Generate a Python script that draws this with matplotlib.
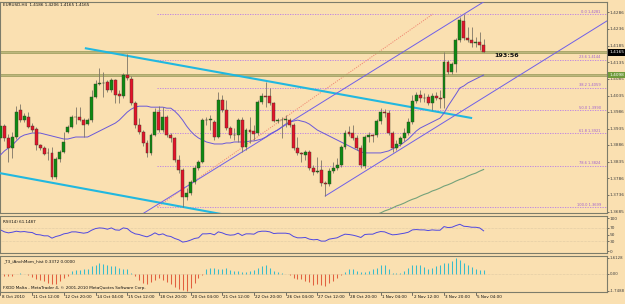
import matplotlib
matplotlib.use("Agg")
import matplotlib.pyplot as plt
import numpy as np

# ---------------- data ----------------
opens = [1.3907,1.3943,1.3907,1.3877,1.3910,1.3991,1.3961,1.3970,1.3943,1.3934,
         1.3886,1.3877,1.3862,1.3862,1.3789,1.3843,1.3865,1.3925,1.3940,1.3970,
         1.3970,1.3961,1.3949,1.3961,1.4030,1.4070,1.4073,1.4076,1.4052,1.4082,
         1.4039,1.4033,1.4097,1.4085,1.4012,1.3946,1.3925,1.3892,1.3862,1.3916,
         1.3985,1.3931,1.3970,1.3916,1.3907,1.3840,1.3810,1.3729,1.3741,1.3774,
         1.3816,1.3834,1.3961,1.3961,1.3955,1.3910,1.4021,1.3991,1.3937,1.3916,
         1.3916,1.3961,1.3880,1.3931,1.3928,1.3922,1.4015,1.4033,1.4033,1.4012,
         1.3958,1.3961,1.3961,1.3961,1.3946,1.3877,1.3862,1.3856,1.3865,1.3816,
         1.3804,1.3810,1.3771,1.3768,1.3807,1.3816,1.3825,1.3880,1.3925,1.3922,
         1.3907,1.3877,1.3822,1.3910,1.3916,1.3916,1.3958,1.3985,1.3982,1.3922,
         1.3877,1.3889,1.3907,1.3922,1.3955,1.4018,1.4036,1.4027,1.4030,1.4012,
         1.4033,1.4027,1.4027,1.4136,1.4106,1.4130,1.4202,1.4260,1.4208,1.4202,
         1.4193,1.4196,1.4186]
highs = [1.3961,1.3949,1.3919,1.3925,1.4003,1.4009,1.3982,1.3985,1.3952,1.3940,
         1.3889,1.3883,1.3877,1.3880,1.3849,1.3871,1.3925,1.3946,1.3976,1.4000,
         1.4000,1.3967,1.3967,1.4052,1.4082,1.4118,1.4106,1.4082,1.4088,1.4085,
         1.4052,1.4103,1.4160,1.4094,1.4018,1.3967,1.3931,1.3901,1.3922,1.3997,
         1.4003,1.4000,1.3976,1.3922,1.3910,1.3856,1.3816,1.3756,1.3780,1.3825,
         1.3840,1.3967,1.3970,1.3976,1.3961,1.4046,1.4036,1.4021,1.3943,1.3937,
         1.3967,1.3970,1.3937,1.3970,1.3946,1.4021,1.4043,1.4076,1.4058,1.4015,
         1.3967,1.3970,1.3976,1.3967,1.3952,1.3910,1.3865,1.3871,1.3871,1.3825,
         1.3849,1.3840,1.3777,1.3816,1.3834,1.3846,1.3886,1.3931,1.3943,1.3946,
         1.3916,1.3886,1.3916,1.3925,1.3919,1.3964,1.3997,1.3994,1.3991,1.3928,
         1.3901,1.3913,1.3937,1.3967,1.4036,1.4046,1.4052,1.4043,1.4039,1.4043,
         1.4046,1.4052,1.4166,1.4142,1.4136,1.4208,1.4272,1.4281,1.4242,1.4242,
         1.4211,1.4226,1.4206]
lows = [1.3901,1.3898,1.3834,1.3846,1.3904,1.3955,1.3955,1.3937,1.3925,1.3871,
        1.3871,1.3856,1.3840,1.3783,1.3783,1.3834,1.3862,1.3922,1.3937,1.3949,
        1.3958,1.3910,1.3946,1.3955,1.4027,1.4067,1.4030,1.4046,1.4046,1.4012,
        1.4012,1.4027,1.4082,1.4006,1.3937,1.3919,1.3883,1.3849,1.3856,1.3913,
        1.3925,1.3925,1.3910,1.3895,1.3834,1.3801,1.3699,1.3720,1.3735,1.3768,
        1.3810,1.3831,1.3946,1.3931,1.3901,1.3907,1.3985,1.3931,1.3907,1.3901,
        1.3895,1.3865,1.3871,1.3892,1.3901,1.3916,1.4009,1.4000,1.4006,1.3955,
        1.3952,1.3907,1.3940,1.3940,1.3871,1.3856,1.3834,1.3840,1.3810,1.3795,
        1.3801,1.3762,1.3732,1.3762,1.3801,1.3810,1.3819,1.3874,1.3913,1.3901,
        1.3871,1.3816,1.3816,1.3895,1.3895,1.3910,1.3949,1.3970,1.3916,1.3865,
        1.3871,1.3883,1.3898,1.3916,1.3949,1.4012,1.4015,1.4015,1.4006,1.3991,
        1.4021,1.3997,1.3997,1.4100,1.4100,1.4106,1.4196,1.4202,1.4196,1.4181,
        1.4181,1.4172,1.4165]
closes = [1.3943,1.3907,1.3877,1.3910,1.3985,1.3961,1.3973,1.3940,1.3931,1.3886,
          1.3877,1.3859,1.3863,1.3789,1.3843,1.3865,1.3895,1.3940,1.3970,1.3969,
          1.3961,1.3946,1.3961,1.4030,1.4070,1.4073,1.4074,1.4052,1.4082,1.4036,
          1.4033,1.4097,1.4088,1.4012,1.3946,1.3925,1.3892,1.3862,1.3916,1.3985,
          1.3931,1.3970,1.3916,1.3907,1.3840,1.3810,1.3729,1.3741,1.3774,1.3816,
          1.3834,1.3961,1.3960,1.3963,1.3910,1.4021,1.3991,1.3937,1.3916,1.3917,
          1.3961,1.3880,1.3931,1.3925,1.3919,1.4015,1.4033,1.4032,1.4012,1.3958,
          1.3961,1.3960,1.3963,1.3946,1.3877,1.3862,1.3860,1.3865,1.3816,1.3804,
          1.3808,1.3771,1.3768,1.3807,1.3816,1.3825,1.3880,1.3922,1.3919,1.3907,
          1.3877,1.3825,1.3910,1.3916,1.3914,1.3958,1.3985,1.3981,1.3922,1.3877,
          1.3889,1.3907,1.3922,1.3955,1.4018,1.4036,1.4027,1.4029,1.4012,1.4033,
          1.4027,1.4024,1.4136,1.4106,1.4130,1.4202,1.4263,1.4208,1.4202,1.4193,
          1.4196,1.4186,1.4165]
ma_fast = [1.3856,1.3868,1.3877,1.3886,1.3898,1.3910,1.3916,1.3919,1.3922,1.3922,
           1.3922,1.3919,1.3916,1.3913,1.3910,1.3907,1.3904,1.3904,1.3907,1.3910,
           1.3910,1.3910,1.3910,1.3916,1.3922,1.3928,1.3934,1.3940,1.3946,1.3952,
           1.3961,1.3973,1.3985,1.3994,1.4000,1.4003,1.4003,1.4003,1.4000,1.4000,
           1.4000,1.4000,1.3997,1.3997,1.3988,1.3976,1.3961,1.3943,1.3928,1.3916,
           1.3907,1.3901,1.3895,1.3892,1.3889,1.3889,1.3889,1.3892,1.3892,1.3895,
           1.3895,1.3895,1.3895,1.3898,1.3898,1.3901,1.3904,1.3910,1.3919,1.3925,
           1.3931,1.3940,1.3949,1.3955,1.3958,1.3961,1.3958,1.3955,1.3949,1.3940,
           1.3931,1.3925,1.3919,1.3913,1.3907,1.3901,1.3895,1.3889,1.3883,1.3877,
           1.3871,1.3865,1.3862,1.3862,1.3862,1.3862,1.3862,1.3865,1.3868,1.3874,
           1.3880,1.3886,1.3895,1.3904,1.3916,1.3928,1.3937,1.3943,1.3949,1.3955,
           1.3961,1.3967,1.3982,1.4003,1.4021,1.4039,1.4058,1.4064,1.4073,1.4079,
           1.4085,1.4091,1.4097]
ma_slow_start = 94
ma_slow = [1.3672,1.3677,1.3681,1.3687,1.3691,1.3696,1.3702,1.3706,1.3711,1.3717,
           1.3722,1.3726,1.3732,1.3737,1.3741,1.3747,1.3751,1.3756,1.3762,1.3766,
           1.3771,1.3777,1.3782,1.3786,1.3792,1.3797,1.3801,1.3807,1.3812]
rsi = [64,58,55,57,60,58,59,57,56,50,49,46,46,39,44,47,52,54,58,58,
       56,54,56,63,68,70,69,66,70,64,63,70,68,58,52,50,46,43,48,55,
       49,52,46,44,38,34,27,29,33,38,40,52,52,53,49,58,55,50,48,49,
       54,47,52,52,51,58,60,60,58,53,54,54,54,52,44,40,40,41,36,34,
       35,30,30,36,38,40,46,51,50,48,45,41,50,51,51,56,59,58,53,49,
       50,52,54,57,64,65,64,64,62,64,63,63,74,71,72,77,81,75,74,72,
       72,70,61.1487]
mom = [-0.2,-0.22,-0.2,-0.22,-0.05,0.03,-0.05,-0.1,-0.3,-0.56,
       -0.65,-0.72,-0.9,-1.05,-1.05,-0.72,-0.4,-0.2,0.26,0.33,
       0.36,0.42,0.49,0.75,0.91,1.08,0.98,0.91,0.8,0.75,
       0.59,0.49,0.42,0.05,-0.23,-0.6,-0.9,-1.05,-0.88,-0.6,
       -0.46,-0.6,-0.8,-1.05,-1.37,-1.54,-1.7,-1.75,-1.45,-0.9,
       -0.4,-0.1,0.42,0.59,0.55,0.49,0.42,0.59,0.35,0.26,
       0.26,0.16,0.2,0.26,0.4,0.6,0.75,0.91,0.59,0.26,
       0.15,0.1,-0.05,-0.16,-0.4,-0.5,-0.56,-0.72,-0.88,-1.2,
       -1.05,-1.15,-1.3,-0.95,-0.72,-0.4,-0.13,0.16,0.42,0.42,
       0.26,0.2,0.16,0.26,0.42,0.59,0.82,0.91,0.49,0.03,
       0.03,0.1,0.26,0.59,0.82,0.82,0.91,0.69,0.49,0.59,
       0.75,0.82,1.08,1.08,1.25,1.55,1.35,1.08,0.91,0.69,
       0.49,0.34,0.3372]
fib_high, fib_low = 1.4281, 1.3699
fib_ratios = [0.0, 23.6, 38.2, 50.0, 61.8, 78.6, 100.0]
fib_start_bar, fib_end_bar = 39.6, 109.2
hlines_prices = [1.4166, 1.4097]
cyan_upper = [(21.3, 1.4178), (119.1, 1.3967)]
cyan_lower = [(-0.13, 1.3801), (56.5, 1.3676)]
chan_upper = [(50.4, 1.3786), (121.8, 1.4316)]
chan_lower_anchor = (82, 1.3732)
price_ticks = [1.4286, 1.4236, 1.4185, 1.4135, 1.4085, 1.4035, 1.3986, 1.3935,
               1.3886, 1.3835, 1.3786, 1.3736, 1.3685]
rsi_ticks = [100, 70, 50, 30, 0]
mom_ticks = [1.6128, 0.0, -1.7488]
mom_tick_labels = ["1.6128", "0.00", "-1.7488"]
time_labels = ["8 Oct 2010", "11 Oct 12:00", "12 Oct 20:00", "14 Oct 04:00",
               "15 Oct 12:00", "18 Oct 20:00", "20 Oct 04:00", "21 Oct 12:00",
               "22 Oct 20:00", "26 Oct 04:00", "27 Oct 12:00", "28 Oct 20:00",
               "1 Nov 04:00", "2 Nov 12:00", "3 Nov 20:00", "5 Nov 04:00"]
time_label_step = 8
last_price = 1.4165
hline_label = "1.4098"
timer_text = "193:56"
header = "EURUSD,H4  1.4186 1.4206 1.4165 1.4165"

# ---------------- style ----------------
W, H = 625, 304
BG = "#fae0b1"
FRAME = "#7c7c6a"
FIB = "#b87be6"
plt.rcParams["font.family"] = ["DejaVu Sans"]

fig = plt.figure(figsize=(W / 100, H / 100), dpi=100)
fig.patch.set_facecolor(BG)


def box(x0, y0, x1, y1):
    return [x0 / W, 1 - y1 / H, (x1 - x0) / W, (y1 - y0) / H]


ax = fig.add_axes(box(0, 2, 607, 213))
ax_rsi = fig.add_axes(box(0, 216, 607, 253))
ax_mom = fig.add_axes(box(0, 256, 607, 292))
xlim = (-0.126, 153.16)
for a in (ax, ax_rsi, ax_mom):
    a.set_facecolor(BG)
    a.set_xlim(*xlim)
    for s in a.spines.values():
        s.set_color(FRAME)
        s.set_linewidth(0.8)
    a.yaxis.tick_right()
    a.tick_params(axis="y", length=1.5, width=0.5, colors="#404040", labelsize=3.1, pad=0.6)
    a.tick_params(axis="x", length=0, labelbottom=False)

n = len(closes)
x = np.arange(n)
O, Hh, L, C = map(np.array, (opens, highs, lows, closes))

ax.set_ylim(1.36808, 1.43172)

# fibonacci retracement
span = fib_high - fib_low
ax.plot([fib_start_bar, fib_end_bar], [fib_low, fib_high], color="#f08a74",
        lw=0.7, ls=(0, (1.2, 1.2)), zorder=2)
for r in fib_ratios:
    lvl = fib_high - r / 100 * span
    ax.hlines(lvl, fib_start_bar, xlim[1], color=FIB, lw=0.6,
              linestyles=(0, (1.5, 1.5)), zorder=2)
    ax.text(151.6, lvl + 0.00012, f"{r:.1f} {lvl:.4f}", ha="right", va="bottom",
            fontsize=2.6, color="#a060d0", zorder=3)

# horizontal olive lines
for p in hlines_prices:
    ax.hlines(p, xlim[0], xlim[1], color="#9c9c5c", lw=1.9, zorder=2)
    ax.hlines(p, xlim[0], xlim[1], color="#c9c38c", lw=0.5, zorder=2)

# cyan trend lines
for seg in (cyan_upper, cyan_lower):
    ax.plot([seg[0][0], seg[1][0]], [seg[0][1], seg[1][1]], color="#21b8e0",
            lw=1.5, zorder=3, solid_capstyle="butt")

# channel
slope = (chan_upper[1][1] - chan_upper[0][1]) / (chan_upper[1][0] - chan_upper[0][0])
xs = np.array([30, 130])
ax.plot(xs, chan_upper[0][1] + slope * (xs - chan_upper[0][0]), color="#6f5fe8",
        lw=0.7, zorder=3)
xs2 = np.array([chan_lower_anchor[0], xlim[1]])
ax.plot(xs2, chan_lower_anchor[1] + slope * (xs2 - chan_lower_anchor[0]),
        color="#6f5fe8", lw=0.7, zorder=3)

# moving averages
ax.plot(x, ma_fast, color="#6a58d8", lw=0.7, zorder=4)
ax.plot(np.arange(ma_slow_start, ma_slow_start + len(ma_slow)), ma_slow,
        color="#74a27a", lw=0.8, zorder=4)

# candles
up = C >= O
ax.vlines(x, L, Hh, color="#7d7566", lw=0.6, zorder=5)
body_h = np.maximum(np.abs(C - O), 0.00008)
body_col = np.where(np.abs(C - O) < 0.00005, "#404030",
                    np.where(up, "#0d8a12", "#e3142a"))
ax.bar(x, body_h, bottom=np.minimum(O, C), width=0.74, color=body_col,
       edgecolor="#3a3a2a", linewidth=0.3, zorder=6)

ax.set_yticks(price_ticks)
ax.set_yticklabels([f"{p:.4f}" for p in price_ticks])

ytr = ax.get_yaxis_transform()
ax.text(1.004, last_price, f"{last_price:.4f}", transform=ytr, fontsize=3.1,
        color="white", va="center", ha="left", clip_on=False, zorder=10,
        bbox=dict(boxstyle="square,pad=0.25", fc="black", ec="none"))
ax.text(1.004, hlines_prices[1], hline_label, transform=ytr, fontsize=3.1,
        color="white", va="center", ha="left", clip_on=False, zorder=10,
        bbox=dict(boxstyle="square,pad=0.25", fc="#6f9a3a", ec="none"))

ax.text(124.6, 1.4157, timer_text, ha="left", va="center", fontsize=4.6,
        fontweight="bold", color="#111111", zorder=10)
ax.text(0.005, 0.986, header, transform=ax.transAxes, ha="left", va="center",
        fontsize=3, color="#111111")

# RSI
ax_rsi.set_ylim(-6.06, 106.1)
for lv in (70, 30):
    ax_rsi.axhline(lv, color="#c8b898", lw=0.4, ls=(0, (1, 1.5)))
ax_rsi.plot(x, rsi, color="#5048e0", lw=0.7)
ax_rsi.set_yticks(rsi_ticks)
ax_rsi.set_yticklabels([str(t) for t in rsi_ticks])
ax_rsi.text(0.005, 0.85, f"RSI(14) {rsi[-1]:.4f}",
            transform=ax_rsi.transAxes, fontsize=3, va="center", color="#111111")

# momentum histogram
ax_mom.set_ylim(-1.86, 1.78)
m = np.array(mom)
mcol = np.where(m >= 0, "#38bccb", "#e2603f")
ax_mom.vlines(x, 0, m, colors=mcol, lw=0.75)
ax_mom.axhline(0, color="#c8b898", lw=0.4, ls=(0, (1, 1.5)))
ax_mom.set_yticks(mom_ticks)
ax_mom.set_yticklabels(mom_tick_labels)
ax_mom.tick_params(axis="y", labelsize=2.8, pad=0.3)
ax_mom.text(0.005, 0.86, f"_T3_iAnchMom_hist {mom[-1]:.4f} 0.0000",
            transform=ax_mom.transAxes, fontsize=3, va="center", color="#111111")
ax_mom.text(0.005, 0.1, "FXDD Malta - MetaTrader 4, \u00a9 2001-2010 MetaQuotes Software Corp.",
            transform=ax_mom.transAxes, fontsize=3, va="center", color="#111111")

# time axis
xtr = ax_mom.get_xaxis_transform()
for k, lab in enumerate(time_labels):
    b = k * time_label_step
    ax_mom.plot([b, b], [0, -0.07], transform=xtr, color="#404040", lw=0.5,
                clip_on=False)
    ax_mom.text(b + 0.3, -0.14, lab, transform=xtr, ha="left", va="center",
                fontsize=3, color="#111111", clip_on=False)

fig.savefig("out.png", dpi=100, facecolor=BG)
